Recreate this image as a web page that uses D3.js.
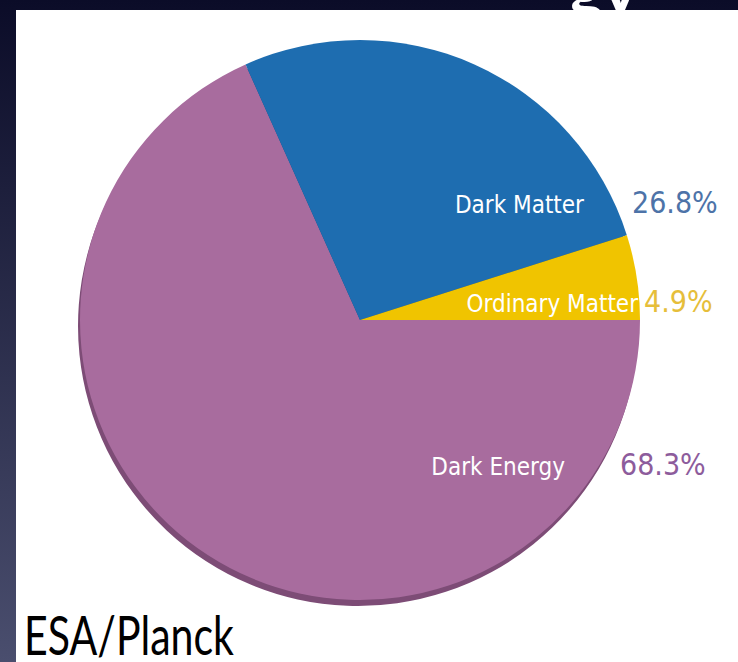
<!DOCTYPE html>
<html><head><meta charset="utf-8">
<script src="https://cdn.jsdelivr.net/npm/d3@7"></script>
<style>body{margin:0;background:#0e0f2a;overflow:hidden}</style>
</head><body>
<svg id="c" width="738" height="662"></svg>
<script>
const categories = ['Dark Energy', 'Dark Matter', 'Ordinary Matter'];
const values = [68.3, 26.8, 4.9];
const valueLabels = ['68.3%', '26.8%', '4.9%'];
const colors = ['#a86c9e', '#1e6db0', '#f0c400'];
const shades = ['#7d4c76', '#134d80', '#b08e00'];
const pctColors = ['#8d5c9c', '#4d73a8', '#e6be3a'];

const svg = d3.select('#c');
const defs = svg.append('defs');
const g0 = defs.append('linearGradient').attr('id', 'bg').attr('x1', 0).attr('y1', 0).attr('x2', 0).attr('y2', 1);
g0.append('stop').attr('offset', 0).attr('stop-color', '#0b0c28');
g0.append('stop').attr('offset', 1).attr('stop-color', '#4a4e6e');
svg.append('rect').attr('width', 738).attr('height', 662).attr('fill', 'url(#bg)');
svg.append('text').attr('x', 568).attr('y', 14).attr('fill', '#fff')
  .style('font', 'bold 66px Lato, sans-serif').text('gy');
svg.append('rect').attr('x', 16).attr('y', 10).attr('width', 722).attr('height', 652).attr('fill', '#fff');

const cx = 360, cy = 320, r = 280;
const pie = d3.pie().sort(null).startAngle(Math.PI / 2).endAngle(Math.PI / 2 + 2 * Math.PI);
const arcs = pie(values);
const arc = d3.arc().innerRadius(0).outerRadius(r);

const chart = svg.append('g').attr('transform', `translate(${cx},${cy})`);
// shadow edge
chart.selectAll('path.sh').data(arcs).enter().append('path')
  .attr('transform', 'translate(-2,6)')
  .attr('d', arc).attr('fill', (d, i) => shades[i]);
chart.selectAll('path.sl').data(arcs).enter().append('path')
  .attr('d', arc).attr('fill', (d, i) => colors[i]);

const lab = svg.append('g').style('font-family', '"DejaVu Sans Condensed", sans-serif');
const nameX = [565, 584, 638], nameY = [475, 213, 312];
const pctX = [620, 632, 644];
categories.forEach((c, i) => {
  lab.append('text').attr('x', nameX[i]).attr('y', nameY[i]).attr('text-anchor', 'end')
    .attr('fill', '#fff').style('font-size', '24px').text(c);
  lab.append('text').attr('x', pctX[i]).attr('y', nameY[i]).attr('fill', pctColors[i])
    .style('font-size', '30px').text(valueLabels[i]);
});

svg.append('text').attr('x', 24).attr('y', 655).attr('fill', '#000')
  .attr('textLength', 210).attr('lengthAdjust', 'spacingAndGlyphs')
  .style('font', '54px Lato, sans-serif').text('ESA/Planck');
</script>
</body></html>
